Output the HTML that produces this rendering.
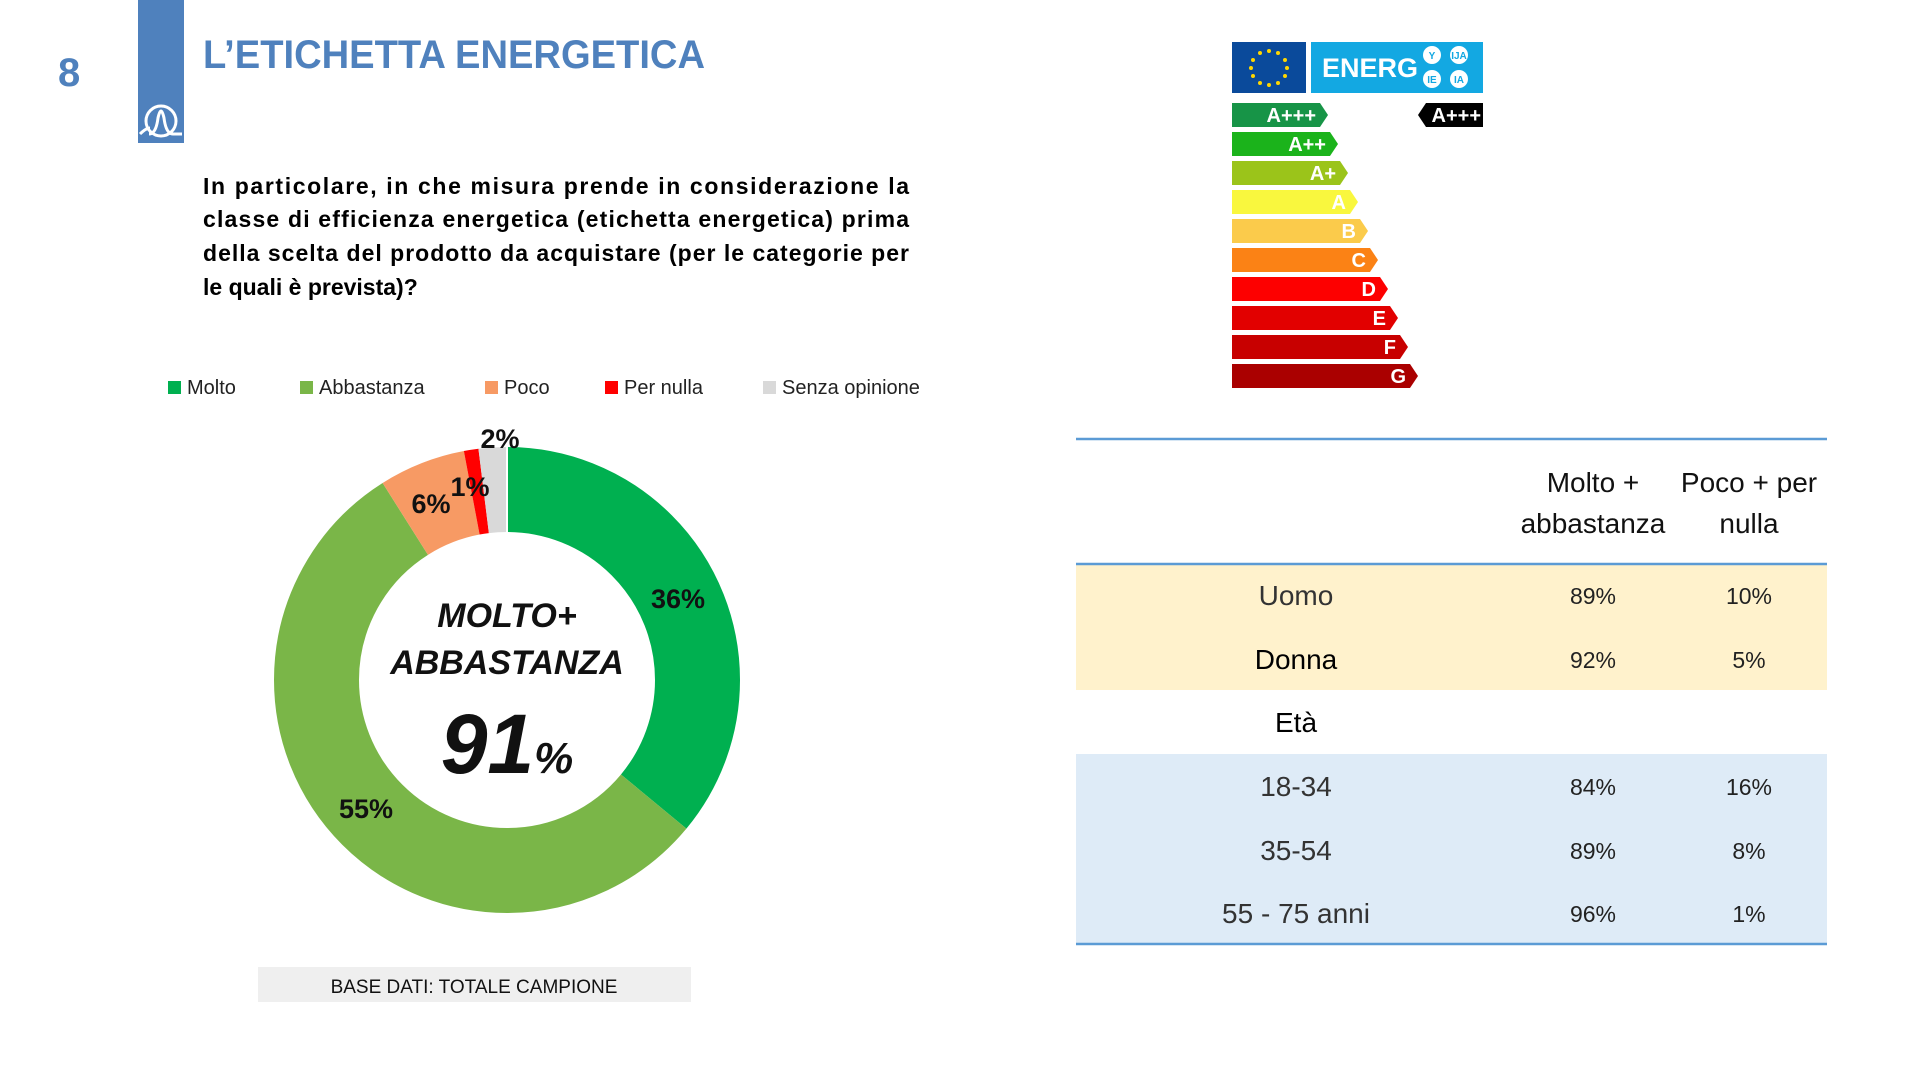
<!DOCTYPE html>
<html><head><meta charset="utf-8"><style>html,body{margin:0;padding:0;background:#fff}svg{display:block}</style></head>
<body>
<svg width="1920" height="1081" viewBox="0 0 1920 1081" xmlns="http://www.w3.org/2000/svg" font-family="Liberation Sans, sans-serif">
<rect width="1920" height="1081" fill="#fff"/>
<!-- header -->
<rect x="138" y="0" width="46" height="143" fill="#4F81BD"/>
<path d="M140 134 Q146 128 150 128" stroke="#fff" stroke-width="3" fill="none"/>
<circle cx="161" cy="121" r="15" stroke="#fff" stroke-width="3" fill="none"/>
<path d="M149 134 Q156 134 158 118 Q161 104 164 118 Q166 134 173 134 L182 134" stroke="#fff" stroke-width="3" fill="none"/>
<text x="58" y="86" font-size="40" font-weight="bold" fill="#4F81BD">8</text>
<text x="203" y="68" font-size="40" font-weight="bold" fill="#4F81BD" textLength="502" lengthAdjust="spacingAndGlyphs">L’ETICHETTA ENERGETICA</text>
<!-- question -->
<g font-size="23" font-weight="bold" fill="#000">
<text x="203" y="194" textLength="706" lengthAdjust="spacing">In particolare, in che misura prende in considerazione la</text>
<text x="203" y="227" textLength="706" lengthAdjust="spacing">classe di efficienza energetica (etichetta energetica) prima</text>
<text x="203" y="261" textLength="706" lengthAdjust="spacing">della scelta del prodotto da acquistare (per le categorie per</text>
<text x="203" y="295">le quali è prevista)?</text>
</g>
<!-- legend -->
<g font-size="20" fill="#222">
<rect x="168" y="381" width="13" height="13" fill="#00B050"/><text x="187" y="394">Molto</text>
<rect x="300" y="381" width="13" height="13" fill="#7AB648"/><text x="319" y="394">Abbastanza</text>
<rect x="485" y="381" width="13" height="13" fill="#F79A64"/><text x="504" y="394">Poco</text>
<rect x="605" y="381" width="13" height="13" fill="#FF0000"/><text x="624" y="394">Per nulla</text>
<rect x="763" y="381" width="13" height="13" fill="#D9D9D9"/><text x="782" y="394">Senza opinione</text>
</g>
<!-- donut -->
<g transform="rotate(-90 507 680)" fill="none" stroke-width="85">
<circle cx="507" cy="680" r="190.5" stroke="#00B050" stroke-dasharray="430.9 2000" stroke-dashoffset="0"/>
<circle cx="507" cy="680" r="190.5" stroke="#7AB648" stroke-dasharray="658.3 2000" stroke-dashoffset="-430.9"/>
<circle cx="507" cy="680" r="190.5" stroke="#F79A64" stroke-dasharray="71.8 2000" stroke-dashoffset="-1089.2"/>
<circle cx="507" cy="680" r="190.5" stroke="#FF0000" stroke-dasharray="12 2000" stroke-dashoffset="-1161"/>
<circle cx="507" cy="680" r="190.5" stroke="#D9D9D9" stroke-dasharray="23.9 2000" stroke-dashoffset="-1173"/>
</g>
<g stroke="#fff" stroke-width="2">
<line x1="507" y1="447" x2="507" y2="532"/>
</g>
<g font-size="27" font-weight="bold" fill="#111" text-anchor="middle">
<text x="678" y="608">36%</text>
<text x="366" y="818">55%</text>
<text x="431" y="513">6%</text>
<text x="470" y="496">1%</text>
<text x="500" y="448">2%</text>
</g>
<g font-weight="bold" font-style="italic" fill="#111" text-anchor="middle">
<text x="507" y="627" font-size="34">MOLTO+</text>
<text x="507" y="674" font-size="34">ABBASTANZA</text>
<text x="507" y="773" font-size="84">91<tspan font-size="44">%</tspan></text>
</g>
<rect x="258" y="967" width="433" height="35" fill="#EFEFEF"/>
<text x="474" y="993" font-size="19" fill="#111" text-anchor="middle">BASE DATI: TOTALE CAMPIONE</text>
<!-- energy label -->
<rect x="1232" y="42" width="74" height="51" fill="#0A4A9B"/>
<g fill="#FFD700">
<circle cx="1269" cy="51" r="2"/><circle cx="1278" cy="53" r="2"/><circle cx="1285" cy="60" r="2"/><circle cx="1287" cy="68" r="2"/><circle cx="1285" cy="76" r="2"/><circle cx="1278" cy="83" r="2"/><circle cx="1269" cy="85" r="2"/><circle cx="1260" cy="83" r="2"/><circle cx="1253" cy="76" r="2"/><circle cx="1251" cy="68" r="2"/><circle cx="1253" cy="60" r="2"/><circle cx="1260" cy="53" r="2"/>
</g>
<rect x="1311" y="42" width="172" height="51" fill="#13A8E2"/>
<text x="1322" y="77" font-size="27" font-weight="bold" fill="#fff">ENERG</text>
<g fill="#fff"><circle cx="1432" cy="55" r="9"/><circle cx="1459" cy="55" r="9"/><circle cx="1432" cy="79" r="9"/><circle cx="1459" cy="79" r="9"/></g>
<g font-size="10" font-weight="bold" fill="#13A8E2" text-anchor="middle">
<text x="1432" y="59">Y</text><text x="1459" y="59">IJA</text><text x="1432" y="83">IE</text><text x="1459" y="83">IA</text>
</g>
<g font-size="20" font-weight="bold" fill="#fff" text-anchor="end">
<path d="M1232 103 H1320 L1328 115 L1320 127 H1232Z" fill="#179447"/><text x="1316" y="122">A+++</text>
<path d="M1232 132 H1330 L1338 144 L1330 156 H1232Z" fill="#1BB31B"/><text x="1326" y="151">A++</text>
<path d="M1232 161 H1340 L1348 173 L1340 185 H1232Z" fill="#9BC41A"/><text x="1336" y="180">A+</text>
<path d="M1232 190 H1350 L1358 202 L1350 214 H1232Z" fill="#F9F73E"/><text x="1346" y="209">A</text>
<path d="M1232 219 H1360 L1368 231 L1360 243 H1232Z" fill="#FBCB4B"/><text x="1356" y="238">B</text>
<path d="M1232 248 H1370 L1378 260 L1370 272 H1232Z" fill="#FB8215"/><text x="1366" y="267">C</text>
<path d="M1232 277 H1380 L1388 289 L1380 301 H1232Z" fill="#FD0000"/><text x="1376" y="296">D</text>
<path d="M1232 306 H1390 L1398 318 L1390 330 H1232Z" fill="#E20000"/><text x="1386" y="325">E</text>
<path d="M1232 335 H1400 L1408 347 L1400 359 H1232Z" fill="#C80000"/><text x="1396" y="354">F</text>
<path d="M1232 364 H1410 L1418 376 L1410 388 H1232Z" fill="#AA0000"/><text x="1406" y="383">G</text>
<path d="M1426 103 H1483 V127 H1426 L1418 115Z" fill="#000"/><text x="1481" y="122">A+++</text>
</g>
<!-- table -->
<rect x="1076" y="563" width="751" height="127" fill="#FFF2CC"/>
<rect x="1076" y="754" width="751" height="190" fill="#DEEBF7"/>
<g stroke="#5B9BD5" stroke-width="2.5">
<line x1="1076" y1="439" x2="1827" y2="439"/>
<line x1="1076" y1="564" x2="1827" y2="564"/>
<line x1="1076" y1="944" x2="1827" y2="944"/>
</g>
<g font-size="28" fill="#111" text-anchor="middle">
<text x="1593" y="492">Molto +</text><text x="1593" y="533">abbastanza</text>
<text x="1749" y="492">Poco + per</text><text x="1749" y="533">nulla</text>
</g>
<g font-size="28" text-anchor="middle">
<text x="1296" y="605" fill="#333">Uomo</text>
<text x="1296" y="669" fill="#000">Donna</text>
<text x="1296" y="732" fill="#000">Età</text>
<text x="1296" y="796" fill="#333">18-34</text>
<text x="1296" y="860" fill="#333">35-54</text>
<text x="1296" y="923" fill="#333">55 - 75 anni</text>
</g>
<g font-size="23" fill="#222" text-anchor="middle">
<text x="1593" y="604">89%</text><text x="1749" y="604">10%</text>
<text x="1593" y="668">92%</text><text x="1749" y="668">5%</text>
<text x="1593" y="795">84%</text><text x="1749" y="795">16%</text>
<text x="1593" y="859">89%</text><text x="1749" y="859">8%</text>
<text x="1593" y="922">96%</text><text x="1749" y="922">1%</text>
</g>
</svg>
</body></html>
